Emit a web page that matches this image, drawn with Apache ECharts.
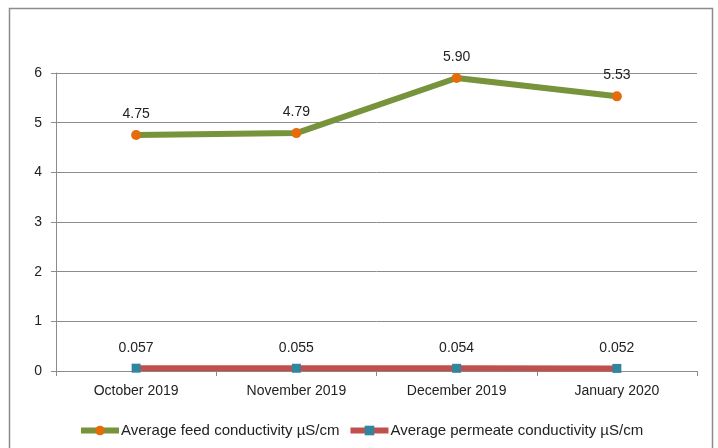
<!DOCTYPE html>
<html><head><meta charset="utf-8">
<script src="https://cdn.jsdelivr.net/npm/echarts@6/dist/echarts.min.js"></script>
<style>html,body{margin:0;padding:0;background:#fff}#c{width:718px;height:448px}</style>
</head><body><div id="c"></div>
<script>
const categories = ['October 2019','November 2019','December 2019','January 2020'];
const feedValues = [4.75, 4.79, 5.90, 5.53];
const permeateValues = [0.057, 0.055, 0.054, 0.052];
const yTicks = [0,1,2,3,4,5,6];
const seriesNames = ['Average feed conductivity µS/cm','Average permeate conductivity µS/cm'];

const font = '"Liberation Sans", sans-serif';
const chart = echarts.init(document.getElementById('c'));
chart.setOption({
  animation:false,
  textStyle:{fontFamily:font},
  graphic:[{type:'rect',shape:{x:9.5,y:8.5,width:703,height:460},style:{fill:'none',stroke:'#8c8c8c',lineWidth:1.5},silent:true}],
  grid:{left:56,right:21,top:73,bottom:77},
  legend:{bottom:5,left:73,itemWidth:38,itemHeight:12,itemGap:8,
    lineStyle:{width:6},
    textStyle:{fontFamily:font,fontSize:15,color:'#222',padding:[0,0,0,-3]},
    data:seriesNames},
  xAxis:{type:'category',data:categories,boundaryGap:true,
    axisLine:{lineStyle:{color:'#8c8c8c',width:1}},
    axisTick:{show:true,alignWithLabel:false,length:5,lineStyle:{color:'#8c8c8c'}},
    axisLabel:{color:'#222',fontSize:14,fontFamily:font,margin:13}},
  yAxis:{type:'value',min:yTicks[0],max:yTicks[yTicks.length-1],interval:1,
    axisLine:{show:true,lineStyle:{color:'#8c8c8c',width:1}},
    axisTick:{show:true,length:5,lineStyle:{color:'#8c8c8c'}},
    splitLine:{lineStyle:{color:'#8c8c8c',width:1}},
    axisLabel:{color:'#222',fontSize:14,fontFamily:font,margin:14}},
  series:[
    {name:seriesNames[0],type:'line',data:feedValues,
      lineStyle:{color:'#77933C',width:6},itemStyle:{color:'#E46C0A'},
      symbol:'circle',symbolSize:10,
      label:{show:true,position:'top',distance:9,color:'#222',fontSize:14,fontFamily:font,
        formatter:p=>p.value.toFixed(2)}},
    {name:seriesNames[1],type:'line',data:permeateValues,
      lineStyle:{color:'#C0504D',width:6},itemStyle:{color:'#31859C'},
      symbol:'rect',symbolSize:9,
      label:{show:true,position:'top',distance:9,color:'#222',fontSize:14,fontFamily:font,
        formatter:p=>p.value.toFixed(3)}}
  ]
});
</script></body></html>
